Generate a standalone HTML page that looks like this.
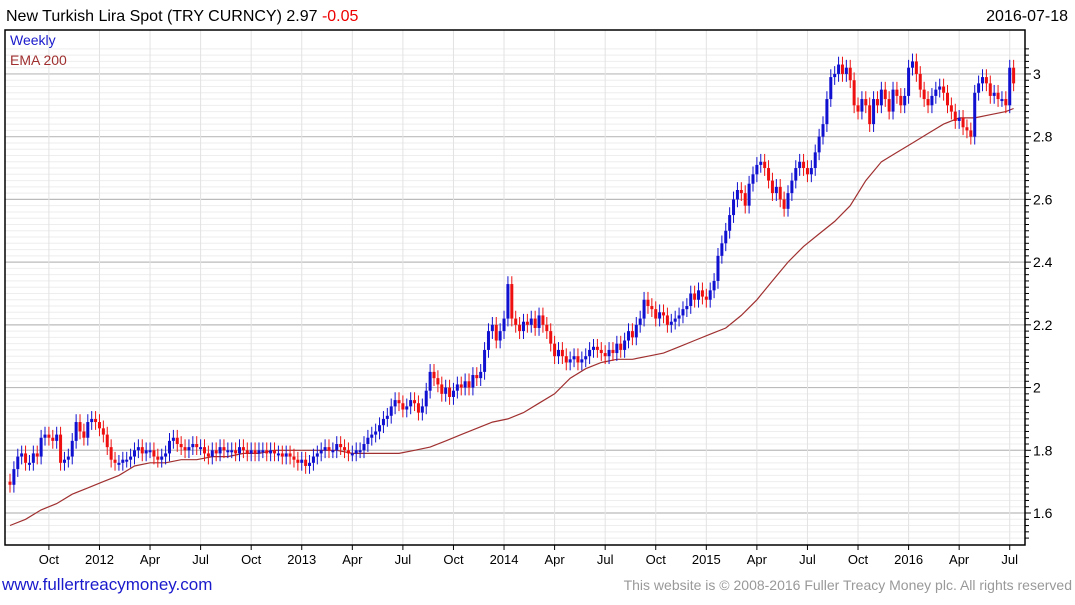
<!DOCTYPE html>
<html><head><meta charset="utf-8"><style>
body{margin:0;background:#fff;width:1075px;height:600px;overflow:hidden;font-family:"Liberation Sans",sans-serif}
svg text{font-family:"Liberation Sans",sans-serif}
</style></head><body>
<svg id="chart" width="1075" height="600" xmlns="http://www.w3.org/2000/svg">
<text x="6" y="21" font-size="16" fill="#000">New Turkish Lira Spot (TRY CURNCY) 2.97 <tspan fill="#e00">-0.05</tspan></text>
<text x="1068" y="21" font-size="16" text-anchor="end" fill="#000">2016-07-18</text>
<g id="grid"></g><g id="ema"></g><g id="candles"></g><g id="axes"></g>
<text x="10" y="45" font-size="14" fill="#1a1acc">Weekly</text>
<text x="10" y="65" font-size="14" fill="#a03030">EMA 200</text>
<text x="2" y="590" font-size="17" fill="#1a1acc">www.fullertreacymoney.com</text>
<text x="1072" y="590" font-size="14" text-anchor="end" fill="#999">This website is © 2008-2016 Fuller Treacy Money plc. All rights reserved</text>
</svg>
<script>
const closes=[1.69,1.74,1.78,1.79,1.76,1.76,1.79,1.78,1.84,1.85,1.84,1.83,1.85,
1.76,1.77,1.78,1.83,1.89,1.86,1.84,1.89,1.90,1.89,1.87,1.85,1.81,
1.77,1.76,1.76,1.77,1.77,1.78,1.80,1.81,1.79,1.80,1.80,1.78,1.77,
1.78,1.79,1.83,1.84,1.82,1.81,1.80,1.81,1.82,1.81,1.81,1.79,1.78,
1.80,1.79,1.81,1.80,1.80,1.80,1.79,1.81,1.80,1.79,1.80,1.79,1.80,
1.80,1.79,1.80,1.79,1.79,1.78,1.79,1.78,1.77,1.76,1.77,1.75,1.76,
1.78,1.79,1.80,1.81,1.80,1.80,1.82,1.81,1.80,1.79,1.79,1.80,1.80,
1.82,1.84,1.85,1.86,1.88,1.90,1.91,1.94,1.96,1.95,1.93,1.94,1.96,
1.95,1.92,1.94,1.99,2.05,2.03,2.01,1.98,2.00,1.97,1.99,2.01,2.00,
2.02,2.00,2.04,2.03,2.05,2.12,2.18,2.20,2.15,2.18,2.22,2.33,2.22,
2.20,2.18,2.21,2.20,2.22,2.19,2.23,2.20,2.18,2.14,2.10,2.12,2.10,
2.08,2.09,2.10,2.08,2.09,2.10,2.12,2.13,2.12,2.11,2.10,2.12,2.11,
2.14,2.12,2.15,2.18,2.16,2.20,2.22,2.28,2.26,2.25,2.22,2.24,2.23,
2.20,2.21,2.22,2.23,2.25,2.26,2.30,2.28,2.31,2.29,2.28,2.31,2.34,
2.42,2.46,2.50,2.55,2.60,2.63,2.62,2.58,2.65,2.68,2.71,2.72,2.70,
2.66,2.62,2.64,2.60,2.57,2.62,2.66,2.70,2.72,2.70,2.68,2.70,2.75,
2.80,2.84,2.92,2.99,3.00,3.03,3.00,3.02,2.98,2.90,2.88,2.92,2.90,
2.84,2.92,2.90,2.95,2.92,2.88,2.95,2.93,2.90,2.93,3.02,3.04,3.00,
2.95,2.92,2.90,2.93,2.95,2.96,2.94,2.90,2.88,2.85,2.86,2.83,2.82,
2.80,2.94,2.97,2.99,2.97,2.93,2.94,2.92,2.92,2.90,3.02,2.97];
const firstOpen=1.70;
const emaEvery4=[1.56,1.58,1.61,1.63,1.66,1.68,1.70,1.72,1.75,1.76,1.76,1.77,1.77,1.78,1.78,1.79,1.79,1.80,1.80,1.80,1.80,1.80,1.79,1.79,1.79,1.79,1.80,1.81,1.83,1.85,1.87,1.89,1.90,1.92,1.95,1.98,2.03,2.06,2.08,2.09,2.09,2.10,2.11,2.13,2.15,2.17,2.19,2.23,2.28,2.34,2.40,2.45,2.49,2.53,2.58,2.66,2.72,2.75,2.78,2.81,2.84,2.86,2.86,2.87,2.88,2.89];
const yTicks=["1.6","1.8","2","2.2","2.4","2.6","2.8","3"];
const xTickLabels=["Oct","2012","Apr","Jul","Oct","2013","Apr","Jul","Oct","2014","Apr","Jul","Oct","2015","Apr","Jul","Oct","2016","Apr","Jul"];
const xTickWeeks=[10,23,36,49,62,75,88,101,114,127,140,153,166,179,192,205,218,231,244,257];
const NS="http://www.w3.org/2000/svg";
const L=5,R=1025,T=30,B=545;
function X(i){return 10+i*3.89;}
function Y(v){return 513-(v-1.6)*313.6;}
function mk(tag,attrs,parent){const e=document.createElementNS(NS,tag);for(const k in attrs)e.setAttribute(k,attrs[k]);parent.appendChild(e);return e;}
const grid=document.getElementById('grid'),axes=document.getElementById('axes');
for(let v=1.52;v<=3.1;v+=0.02){const y=Y(v);if(y<T||y>B)continue;
 const major=Math.abs(Math.round(v*10)/10-v)<0.001&&Math.round(v*10)%2===0;
 const ln=mk('line',{x1:L,x2:R,y1:y,y2:y,stroke:major?'#bbb':'#eee','stroke-width':major?1.2:1},grid);
 
 
 const tk=mk('line',{x1:R,x2:R+(major?6:4),y1:y,y2:y,stroke:'#000'},axes);
 
 }
yTicks.forEach(t=>{const tx=mk('text',{x:1033,y:Y(parseFloat(t))+5,'font-size':14,fill:'#000'},axes);tx.textContent=t;
 
 });
xTickWeeks.forEach((w,k)=>{const x=X(w);
 const g=mk('line',{x1:x,x2:x,y1:T,y2:B,stroke:'#e2e2e2'},grid);
 
 
 const tk=mk('line',{x1:x,x2:x,y1:B,y2:B+5,stroke:'#000'},axes);
 
 
 const tx=mk('text',{x:x,y:564,'font-size':13,'text-anchor':'middle',fill:'#000'},axes);tx.textContent=xTickLabels[k];
 
 });
const fr=mk('path',{d:`M${L},${T}H${R}V${B}H${L}Z`,fill:'none',stroke:'#000','stroke-width':1.5},axes);


const emaG=document.getElementById('ema');
const pts=emaEvery4.map((v,k)=>X(Math.min(k*4,closes.length-1)).toFixed(1)+','+Y(v).toFixed(1)).join(' ');
const pl=mk('polyline',{points:pts,fill:'none',stroke:'#a03030','stroke-width':1.2},emaG);


const cg=document.getElementById('candles');
closes.forEach((c,i)=>{const o=i===0?firstOpen:closes[i-1];const up=c>=o;const col=up?'#1010d0':'#ee1010';
 const x=X(i),hi=Math.max(o,c)+0.025,lo=Math.min(o,c)-0.025;
 const g=mk('g',{},cg);
 
 
 mk('line',{x1:x,x2:x,y1:Y(hi),y2:Y(lo),stroke:col,'stroke-width':1},g);
 const top=Y(Math.max(o,c)),h=Math.max(2,Y(Math.min(o,c))-top);
 mk('rect',{x:x-1.5,y:top,width:3,height:h,fill:col},g);});
</script>
</body></html>
